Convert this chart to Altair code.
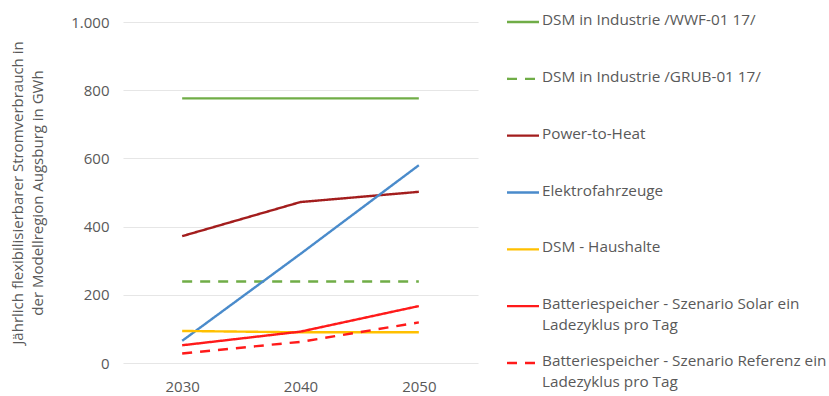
import altair as alt
import pandas as pd

years = ["2030", "2040", "2050"]
series = [
    "DSM in Industrie /WWF-01 17/",
    "DSM in Industrie /GRUB-01 17/",
    "Power-to-Heat",
    "Elektrofahrzeuge",
    "DSM - Haushalte",
    "Batteriespeicher - Szenario Solar ein Ladezyklus pro Tag",
    "Batteriespeicher - Szenario Referenz ein Ladezyklus pro Tag",
]
legend_text = [
    "DSM in Industrie /WWF-01 17/",
    "DSM in Industrie /GRUB-01 17/",
    "Power-to-Heat",
    "Elektrofahrzeuge",
    "DSM - Haushalte",
    "Batteriespeicher - Szenario Solar ein\nLadezyklus pro Tag",
    "Batteriespeicher - Szenario Referenz ein\nLadezyklus pro Tag",
]
wwf = [776, 776, 776]
grub = [239, 239, 239]
p2h = [372, 472, 502]
elektro = [65, 320, 580]
haushalte = [94, 90, 90]
batt_solar = [52, 92, 167]
batt_ref = [28, 62, 119]
values = [wwf, grub, p2h, elektro, haushalte, batt_solar, batt_ref]

colors = ["#70AD47", "#70AD47", "#A31D1D", "#4A8BCB", "#FFC000", "#FF1A1A", "#FF1A1A"]
dashed = [False, True, False, False, False, False, True]
dash_values = [[10, 8] if d else [1, 0] for d in dashed]

rows = []
for s, vals in zip(series, values):
    for y, v in zip(years, vals):
        rows.append({"Serie": s, "Jahr": y, "Wert": v})
df = pd.DataFrame(rows)

leg = pd.DataFrame({"Serie": series, "Text": legend_text})

color_scale = alt.Scale(domain=series, range=colors)
dash_scale = alt.Scale(domain=series, range=dash_values)

FONT = "Open Sans"
GREY = "#595959"
FS = 15

main = alt.Chart(df).mark_line(strokeWidth=2.4).encode(
    x=alt.X("Jahr:N", sort=years, scale=alt.Scale(paddingInner=0, paddingOuter=0.5, align=0.5),
            axis=alt.Axis(title=None, labelAngle=0, ticks=False, domain=False, grid=False,
                          labelPadding=16, labelFontSize=FS, labelColor=GREY, labelFont=FONT)),
    y=alt.Y("Wert:Q", scale=alt.Scale(domain=[0, 1000]),
            axis=alt.Axis(values=[0, 200, 400, 600, 800, 1000],
                          labelExpr="replace(format(datum.value, ','), ',', '.')",
                          title=["Jährlich flexibilisierbarer Stromverbrauch in",
                                 "der Modellregion Augsburg in GWh"],
                          titleFontSize=FS, titleFontWeight="normal", titleColor=GREY,
                          titleFont=FONT, titlePadding=25, titleLineHeight=20,
                          labelFontSize=FS, labelColor=GREY, labelFont=FONT, labelPadding=14,
                          ticks=False, domain=False, gridColor="#E6E6E6", gridWidth=1.2)),
    color=alt.Color("Serie:N", scale=color_scale, legend=None),
    strokeDash=alt.StrokeDash("Serie:N", scale=dash_scale, legend=None),
    detail="Serie:N",
).properties(width=355, height=341)

ypos = alt.Y("Serie:N", sort=series, scale=alt.Scale(type="point", padding=0), axis=None)

leg_lines = alt.Chart(leg).mark_rule(strokeWidth=2.4).encode(
    x=alt.value(0), x2=alt.value(32),
    y=ypos,
    color=alt.Color("Serie:N", scale=color_scale, legend=None),
    strokeDash=alt.StrokeDash("Serie:N", scale=dash_scale, legend=None),
)
leg_text = alt.Chart(leg).mark_text(
    align="left", baseline="top", dy=-9, lineBreak="\n", lineHeight=21,
    fontSize=15.3, font=FONT, color=GREY,
).encode(
    x=alt.value(35),
    y=ypos,
    text="Text:N",
)
legend_panel = alt.layer(leg_lines, leg_text).properties(width=320, height=341)

chart = alt.hconcat(main, legend_panel, spacing=27).properties(
    padding={"left": 10, "top": 13, "right": 0, "bottom": 0}
).configure(background="white").configure_view(stroke=None)

chart.save("out.html", embed_options={"renderer": "svg", "actions": False})
